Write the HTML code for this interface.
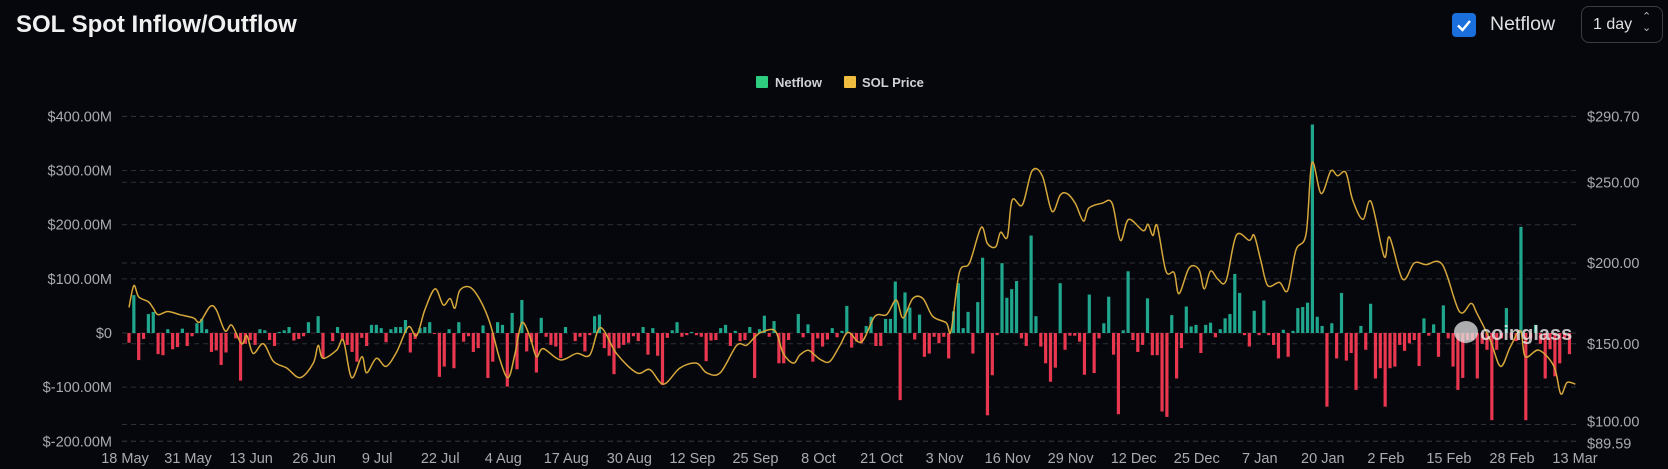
<!DOCTYPE html>
<html><head><meta charset="utf-8">
<style>
html,body{margin:0;padding:0;background:#05070d;}
body{width:1668px;height:469px;overflow:hidden;position:relative;font-family:"Liberation Sans",sans-serif;}
#title{position:absolute;left:16px;top:11px;color:#f0f0f0;font-size:24px;font-weight:bold;}
#cb{position:absolute;left:1452px;top:13px;width:24px;height:24px;background:#1b6fdc;border-radius:4px;}
#cbl{position:absolute;left:1490px;top:13px;color:#e0e0e0;font-size:19.5px;}
#sel{position:absolute;left:1581px;top:6px;width:82px;height:37px;border:1px solid #3a3d44;border-radius:8px;box-sizing:border-box;color:#e0e0e0;font-size:16px;}
svg{position:absolute;left:0;top:0;}
</style></head><body>
<div id="title">SOL Spot Inflow/Outflow</div>
<div id="cb"><svg width="24" height="24"><path d="M6 12.5 L10.5 17 L18 8" stroke="#fff" stroke-width="2.4" fill="none"/></svg></div>
<div id="cbl">Netflow</div>
<div id="sel"><span style="position:absolute;left:11px;top:9px">1 day</span><span style="position:absolute;left:60px;top:5px;font-size:11px;line-height:11px;color:#bbb">&#8963;<br>&#8964;</span></div>
<svg id="chart" width="1668" height="469"></svg>
<script>
const netflow=[-18,70,-50,-11,35,39,-39,-41,7,-30,-26,8,-24,-6,18,26,7,-35,-32,-59,-36,0,-10,-88,-20,-13,-22,7,5,-13,-24,2,5,11,-14,-11,-6,20,0,31,-46,0,-15,11,-13,-22,-35,-53,-9,-24,15,15,9,-17,7,11,11,24,-36,-11,9,11,20,-1,-81,-62,7,-65,20,
-16,-6,-35,-28,14,-83,-53,20,15,-99,37,-67,61,-34,-17,-73,28,-7,-22,-25,-46,11,0,-15,-7,-34,-4,31,34,-28,-42,-76,-28,-22,-18,-6,-15,11,-40,9,-42,-96,-9,5,20,-7,-4,2,-4,-7,-52,-14,-13,9,15,-24,4,-15,-13,11,-83,7,32,-7,22,-56,-56,-13,0,
35,-8,16,-53,-10,-25,-12,9,-8,4,50,-27,-16,-19,13,30,-24,-24,26,26,95,-124,75,47,-12,34,-44,-38,-7,-19,-7,-47,40,92,9,39,-38,57,139,-152,-78,-4,129,65,81,96,-10,-24,180,31,-25,-56,-90,-64,92,-31,-5,-5,-16,-77,71,-74,-10,18,67,-40,-150,5,114,
-13,-35,-22,64,-41,-41,-145,-155,33,-84,-28,49,12,15,-37,15,19,-8,7,27,35,109,74,-4,-25,41,-4,60,-4,-22,-47,6,-44,4,46,48,56,385,30,13,-136,18,-47,74,-51,-37,-105,13,-31,54,-84,-65,-136,-65,-62,-22,-33,-19,-13,-61,27,-5,16,-44,51,
-10,-62,-105,-83,-13,-13,-84,-20,-31,-161,-31,-10,46,-10,-15,196,-161,-10,15,-20,-84,-30,-80,-56,-10,-39];
const priceDay=[0,1,2,4,5,6,8,10.5,13.3,14.6,16.7,18,19.8,21.2,23.2,24.3,25.6,27.7,29.8,32.5,35.3,38,39,40,42.8,44.2,45.9,48,49,51,53,55.2,57.6,59.3,61,63.1,64.8,66.2,67.2,68.2,70.3,72.4,74.4,76.5,78.2,79.6,81,82.7,84,85.4,88.9,92.3,95,97.2,100.5,104.7,107.4,110.2,113.6,117,119.1,121.9,125.3,127.3,129,130.3,133.2,134.9,137,138.3,140,141.4,142.7,144.5,146.6,148.3,151,153.8,156.2,158.2,159.6,161.6,163.7,165.7,168.5,169.5,171.2,173.3,175.7,177,178.7,179.7,181.1,182.1,184.2,186.2,188.3,190.3,192,193.4,195.1,196.8,197.9,200.6,202.7,204.4,206.1,209.1,210.1,211.1,212,213.8,215.5,216.5,218.6,220.6,221.7,223,224.5,226.2,228.3,231,232,233.4,234.8,237.2,238.9,240.6,242.7,243.9,245.8,247.8,249.2,250.9,252.3,254.4,256.1,258.8,259.9,262.6,265,267.4,270.8,274.3,276.7,277.9,280.7,282.8,284.8,286.9,287.9,290.7,293.8,295.2,296.5,298.2];
const priceVal=[172.5,186,179,176,172,168,170,168,166,163.5,173,171,158,161.5,150,155,144,150,139,135,129,138,149,141,146,152,129,142,132,141,136,145,160.5,155,171,184,174,178,172,183,185,177,163,140,129,144,163,154,142,147,140,144,143,160,144,132,134,125,135,138,132,132,149,149,154,157,158,144,138,143,146,143,140,139,149,157,151,167,168,177,166,178,178,167,163,158,194,200,222,212,210,219,216,239,236,257,254,232,242,243,237,226,234,237,237,214,227,220,224,217,223,195,194,181,197,196,184,195,190,189,217,214,217,201,186,188,183,208,218,262,243,257,254,256,239,227,238,204,216,190,200,199,199,170,175,169,152,136,148,158,142,146,136,119,126,125];
const leftTicks=[400,300,200,100,0,-100,-200];
const leftLabels=["$400.00M","$300.00M","$200.00M","$100.00M","$0","$-100.00M","$-200.00M"];
const rightTicks=[290.70,250,200,150,100,89.59];
const rightLabels=["$290.70","$250.00","$200.00","$150.00","$100.00","$89.59"];
const dateLabels=["18 May","31 May","13 Jun","26 Jun","9 Jul","22 Jul","4 Aug","17 Aug","30 Aug","12 Sep","25 Sep","8 Oct","21 Oct","3 Nov","16 Nov","29 Nov","12 Dec","25 Dec","7 Jan","20 Jan","2 Feb","15 Feb","28 Feb","13 Mar"];
const dateStep=13;

const NS="http://www.w3.org/2000/svg";
const svg=document.getElementById('chart');
const X0=122,X1=1578;
const xs=d=>129+4.85*d;
const yL=v=>333-v*0.5415;
const yR=p=>263-(p-200)*1.615;
function mk(tag,at,parent){const e=document.createElementNS(NS,tag);for(const k in at)e.setAttribute(k,at[k]);(parent||svg).appendChild(e);return e;}

leftTicks.forEach((t,i)=>{
  const l=mk('line',{x1:X0,x2:X1,y1:yL(t),y2:yL(t),stroke:'#2e3138','stroke-dasharray':'5,4','stroke-width':1});
  
  
  const tx=mk('text',{x:112,y:yL(t)+5,'text-anchor':'end',fill:'#a9abb0','font-size':14.5,'font-family':'Liberation Sans, sans-serif'});
  tx.textContent=leftLabels[i];
  
  
});
rightTicks.forEach((t,i)=>{
  const l=mk('line',{x1:X0,x2:X1,y1:yR(t),y2:yR(t),stroke:'#2e3138','stroke-dasharray':'5,4','stroke-width':1});
  
  
  const tx=mk('text',{x:1587,y:yR(t)+(i==4?2:i==5?7:5),fill:'#a9abb0','font-size':14.5,'font-family':'Liberation Sans, sans-serif'});
  tx.textContent=rightLabels[i];
  
  
});
dateLabels.forEach((d,i)=>{
  const tx=mk('text',{x:125+4.85*dateStep*i*(1450/(4.85*299)),y:463,'text-anchor':'middle',fill:'#a9abb0','font-size':14.5,'font-family':'Liberation Sans, sans-serif'});
  tx.textContent=d;
  
  
});
netflow.forEach((v,i)=>{
  if(v===0)return;
  const y0=yL(0),y1=yL(v);
  const r=mk('rect',{x:xs(i)-1.6,y:Math.min(y0,y1),width:3.2,height:Math.max(1,Math.abs(y1-y0)),fill:v>0?'#1fa68c':'#e8374e'});
  
  
});
const pts=priceDay.map((d,i)=>[xs(d),yR(priceVal[i])]);
let dstr='M'+pts[0][0]+' '+pts[0][1];
for(let i=0;i<pts.length-1;i++){
  const p0=pts[Math.max(0,i-1)],p1=pts[i],p2=pts[i+1],p3=pts[Math.min(pts.length-1,i+2)];
  const c1=[p1[0]+(p2[0]-p0[0])/6,p1[1]+(p2[1]-p0[1])/6],c2=[p2[0]-(p3[0]-p1[0])/6,p2[1]-(p3[1]-p1[1])/6];
  dstr+=` C${c1[0]} ${c1[1]} ${c2[0]} ${c2[1]} ${p2[0]} ${p2[1]}`;
}
const pl=mk('path',{d:dstr,fill:'none',stroke:'#d6a73a','stroke-width':1.5});


const lg=mk('g',{});


const ls1=mk('rect',{x:756,y:76,width:12,height:12,fill:'#2ecc7f',rx:1},lg);


const lt1=mk('text',{x:775,y:87,fill:'#d0d2d6','font-size':13,'font-weight':'bold','font-family':'Liberation Sans, sans-serif'},lg);
lt1.textContent='Netflow';


const ls2=mk('rect',{x:844,y:76,width:12,height:12,fill:'#efbc3f',rx:1},lg);


const lt2=mk('text',{x:862,y:87,fill:'#d0d2d6','font-size':13,'font-weight':'bold','font-family':'Liberation Sans, sans-serif'},lg);
lt2.textContent='SOL Price';


const wb=mk('ellipse',{cx:1466,cy:332,rx:12,ry:11,fill:'rgba(230,230,230,0.75)'});


const wt=mk('text',{x:1480,y:340,fill:'rgba(235,235,235,0.8)','font-size':20,'font-weight':'bold','font-family':'Liberation Sans, sans-serif'});
wt.textContent='coinglass';


</script>
</body></html>
